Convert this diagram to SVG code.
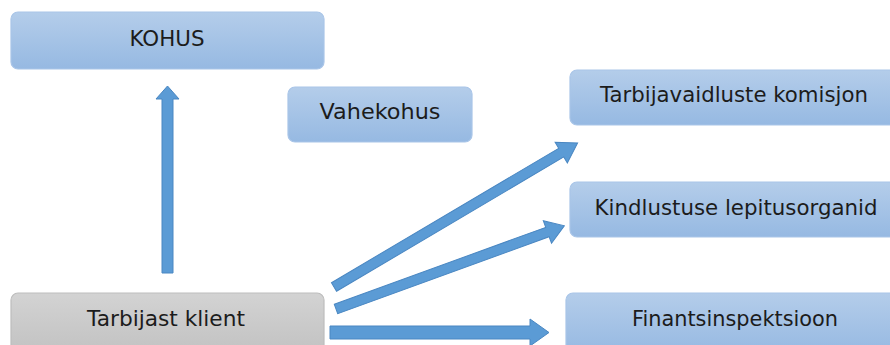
<svg xmlns="http://www.w3.org/2000/svg" width="890" height="345" viewBox="0 0 890 345">
<style>
.blue{fill:url(#gb);stroke:#a9c5e8;stroke-width:1.2}
.gray{fill:url(#gg);stroke:#bdbdbd;stroke-width:1.2}
.t{font-family:"DejaVu Sans","Liberation Sans",sans-serif;font-size:21px;fill:#1c1c1c;text-anchor:middle;dominant-baseline:central}
.arr{fill:#5b9bd5;stroke:#4a87c2;stroke-width:1}
</style>
<defs>
<linearGradient id="gb" x1="0" y1="0" x2="0" y2="1"><stop offset="0" stop-color="#b4cdea"/><stop offset="1" stop-color="#96b9e2"/></linearGradient>
<linearGradient id="gg" x1="0" y1="0" x2="0" y2="1"><stop offset="0" stop-color="#d3d3d3"/><stop offset="1" stop-color="#c2c2c2"/></linearGradient>
</defs>
<g id="connectors">
<polygon class="arr" points="162,273 162,99 156,99 167.5,86 179,99 173,99 173,273"/>
<g transform="translate(334,287) rotate(-30.6)"><polygon class="arr" points="0,-5 264,-5 264,-12 283,0 264,12 264,5 0,5"/></g>
<g transform="translate(336,309) rotate(-20)"><polygon class="arr" points="0,-5 225,-5 225,-12 243,0 225,12 225,5 0,5"/></g>
<polygon class="arr" points="330,326 530,326 530,319 549,332.5 530,346 530,339 330,339"/>
</g>
<g id="kohus"><rect class="blue" x="11" y="12" width="313" height="57" rx="7"/><text class="t" x="167" y="39" textLength="75" lengthAdjust="spacingAndGlyphs">KOHUS</text></g>
<g id="vahekohus"><rect class="blue" x="288" y="87" width="184" height="55" rx="7"/><text class="t" x="380" y="112" textLength="121" lengthAdjust="spacingAndGlyphs">Vahekohus</text></g>
<g id="tarbijavaidluste"><rect class="blue" x="570" y="70" width="330" height="55" rx="7"/><text class="t" x="734" y="95" textLength="268" lengthAdjust="spacingAndGlyphs">Tarbijavaidluste komisjon</text></g>
<g id="kindlustuse"><rect class="blue" x="570" y="182" width="330" height="55" rx="7"/><text class="t" x="736" y="208" textLength="283" lengthAdjust="spacingAndGlyphs">Kindlustuse lepitusorganid</text></g>
<g id="finantsinspektsioon"><rect class="blue" x="566" y="293" width="334" height="60" rx="7"/><text class="t" x="735" y="319" textLength="206" lengthAdjust="spacingAndGlyphs">Finantsinspektsioon</text></g>
<g id="tarbijast"><rect class="gray" x="11" y="293" width="313" height="60" rx="7"/><text class="t" x="166" y="319" textLength="158" lengthAdjust="spacingAndGlyphs">Tarbijast klient</text></g>
</svg>
